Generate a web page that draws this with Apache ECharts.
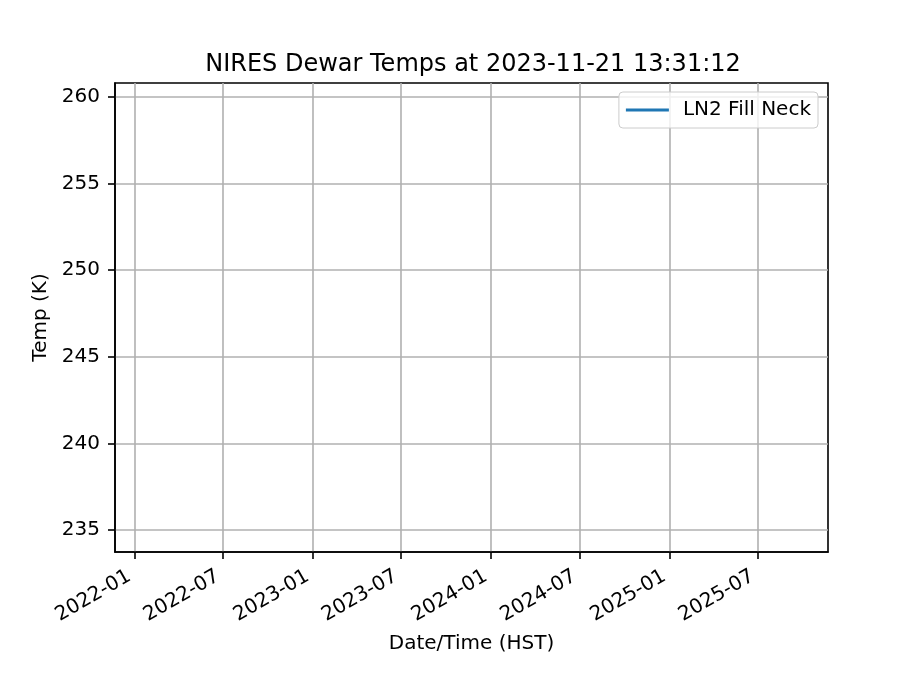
<!DOCTYPE html>
<html>
<head>
<meta charset="utf-8">
<script src="https://cdn.jsdelivr.net/npm/echarts@6/dist/echarts.min.js"></script>
<style>html,body{margin:0;padding:0;background:#fff}#c{width:921px;height:691px}</style>
</head>
<body>
<div id="c"></div>
<script>
const titleText = 'NIRES Dewar Temps at 2023-11-21 13:31:12';
const seriesName = 'LN2 Fill Neck';
const times = ['2023-11-21T13:31:12'];
const temps = [247.27];
const xMinDate = '2021-11-21T13:31:12';
const xMaxDate = '2025-11-21T13:31:12';
const xTicks = ['2022-01-01', '2022-07-01', '2023-01-01', '2023-07-01', '2024-01-01', '2024-07-01', '2025-01-01', '2025-07-01'];
const yMin = 233.73;
const yMax = 260.81;
const yTicks = [235, 240, 245, 250, 255, 260];

const FONT = 'DejaVu Sans';
const xTickVals = xTicks.map(d => new Date(d + 'T00:00:00').getTime());
const chart = echarts.init(document.getElementById('c'));
chart.setOption({
  animation: false,
  backgroundColor: '#fff',
  textStyle: { fontFamily: FONT },
  title: {
    text: titleText, left: 468, textAlign: 'center', top: 48,
    textStyle: { fontFamily: FONT, fontSize: 24, fontWeight: 'normal', color: '#000' }
  },
  legend: {
    right: 103, top: 92, orient: 'vertical',
    padding: [8, 7, 8, 7],
    borderColor: '#cccccc', borderWidth: 1, borderRadius: 4, backgroundColor: 'rgba(255,255,255,0.8)',
    itemWidth: 43, itemHeight: 3, icon: 'rect',
    textStyle: { fontFamily: FONT, fontSize: 20, color: '#000', padding: [0, 0, 0, 9], lineHeight: 18 },
    data: [{ name: seriesName, icon: 'rect' }]
  },
  grid: { left: 115, right: 93, top: 83, bottom: 139, containLabel: false, show: true, borderColor: '#000', borderWidth: 1.6, backgroundColor: 'transparent' },
  xAxis: {
    type: 'value',
    min: new Date(xMinDate).getTime(), max: new Date(xMaxDate).getTime(),
    name: 'Date/Time (HST)', nameLocation: 'middle', nameGap: 82,
    nameTextStyle: { fontFamily: FONT, fontSize: 20, color: '#000' },
    axisLine: { show: true, onZero: false, lineStyle: { color: '#000', width: 1.6 } },
    axisTick: { show: true, customValues: xTickVals, length: 7, lineStyle: { color: '#000', width: 1.6 } },
    axisLabel: {
      customValues: xTickVals, rotate: 30, margin: 20, padding: [0, 6, 0, 0], fontFamily: FONT, fontSize: 20, color: '#000',
      formatter: v => { const d = new Date(v); return d.getFullYear() + '-' + String(d.getMonth() + 1).padStart(2, '0'); }
    },
    splitLine: { show: true, lineStyle: { color: '#b0b0b0', width: 1.6 } }
  },
  yAxis: {
    type: 'value', min: yMin, max: yMax,
    name: 'Temp (K)', nameLocation: 'middle', nameGap: 61, nameRotate: 90,
    nameTextStyle: { fontFamily: FONT, fontSize: 20, color: '#000' },
    axisLine: { show: true, onZero: false, lineStyle: { color: '#000', width: 1.6 } },
    axisTick: { show: true, customValues: yTicks, length: 7, lineStyle: { color: '#000', width: 1.6 } },
    axisLabel: { customValues: yTicks, margin: 15, fontFamily: FONT, fontSize: 20, color: '#000' },
    splitLine: { show: true, lineStyle: { color: '#b0b0b0', width: 1.6 } }
  },
  series: [{
    name: seriesName, type: 'line', symbol: 'none', showSymbol: false,
    lineStyle: { color: '#1f77b4', width: 3 }, itemStyle: { color: '#1f77b4' },
    data: times.map((t, i) => [new Date(t).getTime(), temps[i]])
  }]
});
</script>
</body>
</html>
